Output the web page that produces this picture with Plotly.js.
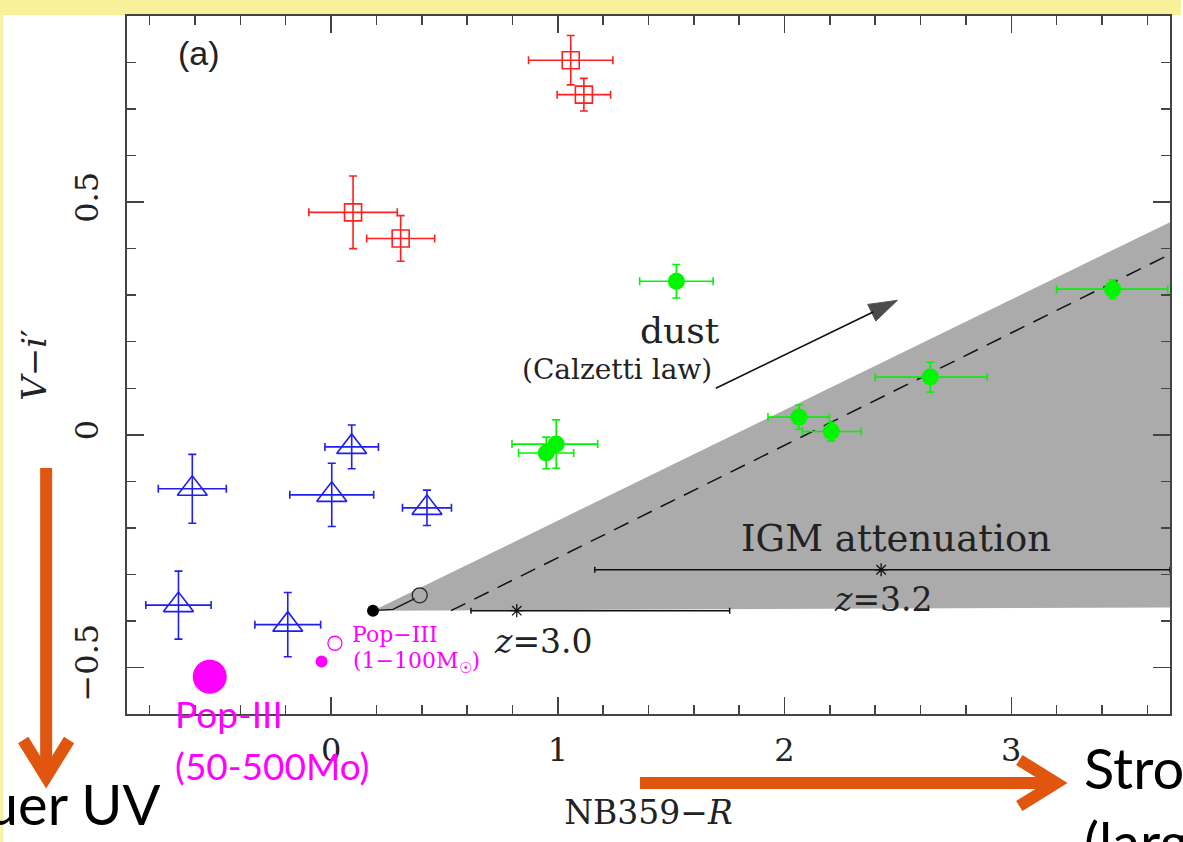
<!DOCTYPE html>
<html>
<head>
<meta charset="utf-8">
<script src="https://cdn.plot.ly/plotly-3.0.1.min.js"></script>
<style>html,body{margin:0;padding:0;background:#fff;}#chart{width:1183px;height:842px;}</style>
</head>
<body>
<div id="chart"></div>
<script>
// ---- data ----
// red open squares
const redX = [1.057, 1.115, 0.097, 0.307];
const redY = [0.805, 0.731, 0.478, 0.422];
const redXErr = [0.186, 0.118, 0.195, 0.150];
const redYErr = [0.053, 0.035, 0.078, 0.049];
// blue open triangles
const blueX = [-0.612, 0.003, 0.091, 0.423, -0.673, -0.191];
const blueY = [-0.116, -0.129, -0.026, -0.157, -0.366, -0.408];
const blueXErr = [0.150, 0.185, 0.118, 0.108, 0.144, 0.145];
const blueYErr = [0.074, 0.068, 0.047, 0.038, 0.073, 0.069];
// green filled circles
const greenX = [1.523, 0.949, 0.993, 2.064, 2.206, 2.643, 3.447];
const greenY = [0.330, -0.039, -0.020, 0.038, 0.007, 0.124, 0.313];
const greenXErrMinus = [0.162, 0.122, 0.195, 0.137, 0.127, 0.243, 0.247];
const greenXErrPlus = [0.162, 0.121, 0.183, 0.134, 0.132, 0.251, 0.243];
const greenYErr = [0.036, 0.034, 0.052, 0.026, 0.020, 0.032, 0.020];
// Pop-III models (magenta)
const popBigX = [-0.535], popBigY = [-0.520];
const popFilledX = [-0.042], popFilledY = [-0.487];
const popOpenX = [0.017], popOpenY = [-0.448];
// model track (black)
const trackX = [0.185, 0.273, 0.369];
const trackY = [-0.378, -0.375, -0.352];
const trackStartX = [0.185], trackStartY = [-0.378];
const trackEndX = [0.391], trackEndY = [-0.345];
// shaded region and dust vector
const wedgeX = [0.185, 3.7, 3.7];
const wedgeY = [-0.378, 0.457, -0.371];
const dashX = [0.529, 3.7];
const dashY = [-0.378, 0.388];
const dustArrowX = [1.697, 2.498];
const dustArrowY = [0.100, 0.289];
// IGM attenuation ranges
const igmX = [0.819, 2.426];
const igmY = [-0.378, -0.290];
const igmMinus = [0.202, 1.263];
const igmPlus = [0.939, 1.274];
// axes
const xRange = [-0.9, 3.7];
const yRange = [-0.6, 0.9];
const xTicks = [0, 1, 2, 3];
const yTicks = [-0.5, 0, 0.5];

// ---- page geometry helpers for slide decorations ----
const L = 127, R = 1172, T = 16, B = 714;
const px = v => (v - L) / (R - L);
const py = v => (B - v) / (B - T);

const SERIF = 'DejaVu Serif, Liberation Serif, serif';
const SLIDE = 'Lato, Open Sans, sans-serif';
const ORANGE = '#E0560F';
const RED = '#FF2020', BLUE = '#1F1FF0', GREEN = '#00F500', MAG = '#FF00FF', INK = '#111';

const traces = [
  {x: wedgeX, y: wedgeY, mode: 'lines', fill: 'toself', fillcolor: '#ABABAB', line: {width: 0}, hoverinfo: 'skip'},
  {x: dashX, y: dashY, mode: 'lines', line: {color: INK, width: 1.5, dash: '16px,10px'}},
  {x: dustArrowX, y: dustArrowY, mode: 'lines+markers', line: {color: INK, width: 1.6},
   marker: {symbol: 'arrow', size: [0, 30], angleref: 'previous', color: '#000'}},
  {x: igmX, y: igmY, mode: 'markers', marker: {symbol: 'asterisk-open', size: 11, color: INK, line: {color: INK, width: 1.3}},
   error_x: {type: 'data', symmetric: false, array: igmPlus, arrayminus: igmMinus, color: INK, thickness: 1.5, width: 3}},
  {x: trackX, y: trackY, mode: 'lines', line: {color: INK, width: 1.3}},
  {x: trackStartX, y: trackStartY, mode: 'markers', marker: {symbol: 'circle', size: 12, color: '#000'}},
  {x: trackEndX, y: trackEndY, mode: 'markers', marker: {symbol: 'circle-open', size: 15, color: '#222', line: {width: 1.3}}},
  {x: redX, y: redY, mode: 'markers', marker: {symbol: 'square-open', size: 17, color: RED, line: {width: 1.6}},
   error_x: {type: 'data', array: redXErr, color: RED, thickness: 1.6, width: 4},
   error_y: {type: 'data', array: redYErr, color: RED, thickness: 1.6, width: 4}},
  {x: blueX, y: blueY, mode: 'markers', marker: {symbol: 'triangle-up-open', size: 26, color: BLUE, line: {width: 1.6}},
   error_x: {type: 'data', array: blueXErr, color: BLUE, thickness: 1.6, width: 4},
   error_y: {type: 'data', array: blueYErr, color: BLUE, thickness: 1.6, width: 4}},
  {x: greenX, y: greenY, mode: 'markers', marker: {symbol: 'circle', size: 17, color: GREEN},
   error_x: {type: 'data', symmetric: false, array: greenXErrPlus, arrayminus: greenXErrMinus, color: GREEN, thickness: 1.6, width: 4},
   error_y: {type: 'data', array: greenYErr, color: GREEN, thickness: 1.6, width: 4}},
  {x: popBigX, y: popBigY, mode: 'markers', marker: {symbol: 'circle', size: 34, color: MAG}},
  {x: popFilledX, y: popFilledY, mode: 'markers', marker: {symbol: 'circle', size: 12, color: MAG}},
  {x: popOpenX, y: popOpenY, mode: 'markers', marker: {symbol: 'circle-open', size: 14, color: MAG, line: {width: 1.3}}}
];

const annotations = [
  {x: -0.581, y: 0.82, text: '(a)', font: {family: 'Liberation Sans, Arial, sans-serif', size: 34, color: '#222'}},
  {x: 1.537, y: 0.225, text: 'dust', font: {family: SERIF, size: 36, color: '#222'}},
  {x: 1.26, y: 0.14, text: '(Calzetti law)', font: {family: SERIF, size: 28, color: '#222'}},
  {x: 2.493, y: -0.223, text: 'IGM attenuation', font: {family: SERIF, size: 37, color: '#222'}},
  {x: 2.438, y: -0.353, text: '<i>z</i>=3.2', font: {family: SERIF, size: 33, color: '#222'}},
  {x: 0.936, y: -0.444, text: '<i>z</i>=3.0', font: {family: SERIF, size: 33, color: '#222'}},
  {x: 0.28, y: -0.430, text: 'Pop−III', font: {family: SERIF, size: 22, color: MAG}},
  {x: 0.375, y: -0.490, text: '(1−100M<sub>☉</sub>)', font: {family: SERIF, size: 22, color: MAG}},
  // slide overlays (page coordinates)
  {xref: 'paper', yref: 'paper', x: px(173), y: py(713), xanchor: 'left', text: 'Pop-III', font: {family: SLIDE, size: 37, color: MAG}},
  {xref: 'paper', yref: 'paper', x: px(173), y: py(765), xanchor: 'left', text: '(50-500Mo)', font: {family: SLIDE, size: 37, color: MAG}},
  {xref: 'paper', yref: 'paper', x: px(162), y: py(803), xanchor: 'right', text: 'Bluer UV', font: {family: SLIDE, size: 56, color: '#000'}},
  {xref: 'paper', yref: 'paper', x: px(1084), y: py(767), xanchor: 'left', text: 'Stronger Lyα', font: {family: SLIDE, size: 56, color: '#000'}},
  {xref: 'paper', yref: 'paper', x: px(1084), y: py(841), xanchor: 'left', text: '(larger EW)', font: {family: SLIDE, size: 56, color: '#000'}}
].map(a => Object.assign({showarrow: false, xref: 'x', yref: 'y', yanchor: 'middle'}, a));

const shapes = [
  {type: 'rect', xref: 'paper', yref: 'paper', x0: px(0), x1: px(1183), y0: py(15), y1: py(0), fillcolor: '#F8F19A', line: {width: 0}, layer: 'below'},
  {type: 'rect', xref: 'paper', yref: 'paper', x0: px(0), x1: px(3), y0: py(842), y1: py(0), fillcolor: '#F8F19A', line: {width: 0}, layer: 'below'},
  // vertical orange arrow
  {type: 'line', xref: 'paper', yref: 'paper', x0: px(46), x1: px(46), y0: py(468), y1: py(776), line: {color: ORANGE, width: 12}},
  {type: 'path', xref: 'paper', yref: 'paper', path: `M ${px(23)},${py(740)} L ${px(46)},${py(777)} L ${px(69)},${py(740)}`, line: {color: ORANGE, width: 12}},
  // horizontal orange arrow
  {type: 'line', xref: 'paper', yref: 'paper', x0: px(641), x1: px(1056), y0: py(783), y1: py(783), line: {color: ORANGE, width: 12}},
  {type: 'path', xref: 'paper', yref: 'paper', path: `M ${px(1021)},${py(760)} L ${px(1058)},${py(783)} L ${px(1021)},${py(806)}`, line: {color: ORANGE, width: 12}}
];

const axisCommon = {
  ticks: 'inside', ticklen: 17, tickwidth: 1.5, tickcolor: '#444',
  showline: true, linecolor: '#444', linewidth: 2, mirror: 'allticks',
  showgrid: false, zeroline: false,
  tickfont: {family: SERIF, size: 32, color: '#222'}
};

const layout = {
  width: 1183, height: 842,
  margin: {l: L, r: 1183 - R, t: T, b: 842 - B, pad: 0},
  paper_bgcolor: '#fff', plot_bgcolor: '#fff',
  showlegend: false,
  xaxis: Object.assign({}, axisCommon, {
    range: xRange, tickvals: xTicks, ticklabelstandoff: 7, automargin: false,
    minor: {dtick: 0.2, tick0: 0, ticks: 'inside', ticklen: 9, tickwidth: 1.5, tickcolor: '#444'},
    title: {text: 'NB359−<i>R</i>', font: {family: SERIF, size: 33, color: '#222'}}
  }),
  yaxis: Object.assign({}, axisCommon, {
    range: yRange, tickvals: yTicks, tickangle: -90, ticklabelstandoff: 14, automargin: true,
    minor: {dtick: 0.1, tick0: 0, ticks: 'inside', ticklen: 9, tickwidth: 1.5, tickcolor: '#444'},
    title: {text: '<i>V</i>−<i>i</i>′', font: {family: SERIF, size: 34, color: '#222'}, standoff: 11}
  }),
  annotations: annotations,
  shapes: shapes
};

Plotly.newPlot('chart', traces, layout, {displayModeBar: false, staticPlot: true});
</script>
</body>
</html>
